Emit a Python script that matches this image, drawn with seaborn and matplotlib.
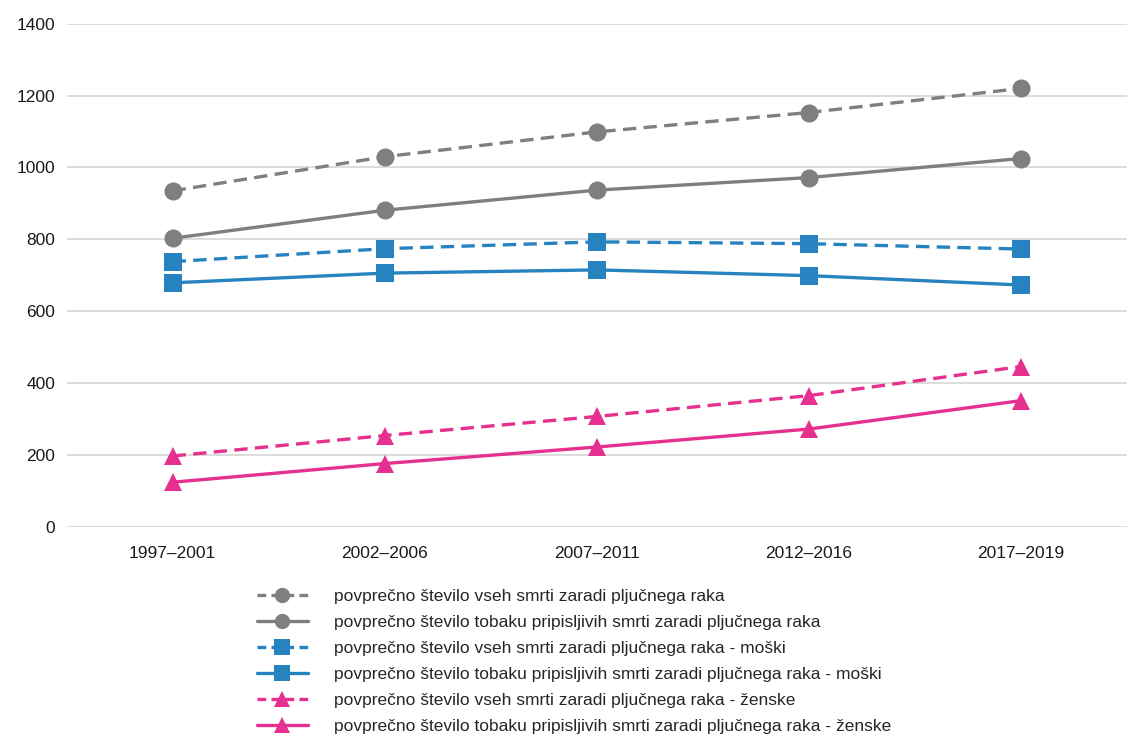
import numpy as np
import pandas as pd
import seaborn as sns
import matplotlib.pyplot as plt
from matplotlib.lines import Line2D

# obdobja in vrednosti (odčitano z grafa)
obdobja = ["1997–2001", "2002–2006", "2007–2011", "2012–2016", "2017–2019"]

vse_skupaj = [935, 1030, 1099, 1153, 1220]
tobak_skupaj = [803, 881, 937, 972, 1025]
vse_moski = [738, 774, 793, 788, 773]
tobak_moski = [679, 706, 715, 699, 673]
vse_zenske = [197, 254, 307, 365, 446]
tobak_zenske = [124, 176, 222, 272, 351]

serije = [
    "povprečno število vseh smrti zaradi pljučnega raka",
    "povprečno število tobaku pripisljivih smrti zaradi pljučnega raka",
    "povprečno število vseh smrti zaradi pljučnega raka - moški",
    "povprečno število tobaku pripisljivih smrti zaradi pljučnega raka - moški",
    "povprečno število vseh smrti zaradi pljučnega raka - ženske",
    "povprečno število tobaku pripisljivih smrti zaradi pljučnega raka - ženske",
]
vrednosti = [vse_skupaj, tobak_skupaj, vse_moski, tobak_moski, vse_zenske, tobak_zenske]

barve = ["#7f7f7f", "#7f7f7f", "#2683c0", "#2683c0", "#e5308f", "#e5308f"]
markerji = ["o", "o", "s", "s", "^", "^"]
crtkano = [True, False, True, False, True, False]

rows = []
for s, v in zip(serije, vrednosti):
    for o, val in zip(obdobja, v):
        rows.append({"obdobje": o, "serija": s, "vrednost": val})
df = pd.DataFrame(rows)
df["x"] = df["obdobje"].map({o: i for i, o in enumerate(obdobja)})

sns.set_style("white")
plt.rcParams["font.family"] = ["Liberation Sans", "DejaVu Sans"]

fig = plt.figure(figsize=(11.28, 7.43), dpi=100)
ax = fig.add_axes([0.059, 0.291, 0.94, 0.677])

dash_map = {s: ((4, 2.2) if d else "") for s, d in zip(serije, crtkano)}
sns.lineplot(
    data=df, x="x", y="vrednost", hue="serija", style="serija",
    hue_order=serije, style_order=serije,
    palette=dict(zip(serije, barve)),
    markers=dict(zip(serije, markerji)),
    dashes=dash_map,
    linewidth=2.4, markersize=13, markeredgewidth=0,
    legend=False, ax=ax, sort=False,
)

ax.set_xlim(-0.5, 4.5)
ax.set_ylim(0, 1400)
ax.set_yticks(np.arange(0, 1401, 200))
ax.set_xticks(range(len(obdobja)))
ax.set_xticklabels(obdobja)
ax.set_xlabel("")
ax.set_ylabel("")
ax.grid(axis="y", color="#d9d9d9", linewidth=1.3)
ax.set_axisbelow(True)
for sp in ax.spines.values():
    sp.set_visible(False)
ax.tick_params(axis="both", length=0, labelsize=12.5, colors="#1a1a1a")
ax.tick_params(axis="x", pad=14)
ax.tick_params(axis="y", pad=8)

handles = []
for s, b, m, d in zip(serije, barve, markerji, crtkano):
    h = Line2D([0], [0], color=b, marker=m, markersize=11, markeredgewidth=0,
               linewidth=2.4, linestyle="-", label=s)
    if d:
        h.set_dashes((2.6, 1.6))
    handles.append(h)

fig.legend(handles=handles, loc="upper left", bbox_to_anchor=(0.228, 0.208),
           frameon=False, fontsize=12.5, handlelength=2.9, handletextpad=1.5,
           labelspacing=0.63, borderpad=0, borderaxespad=0)

fig.savefig("out.png", dpi=100)
